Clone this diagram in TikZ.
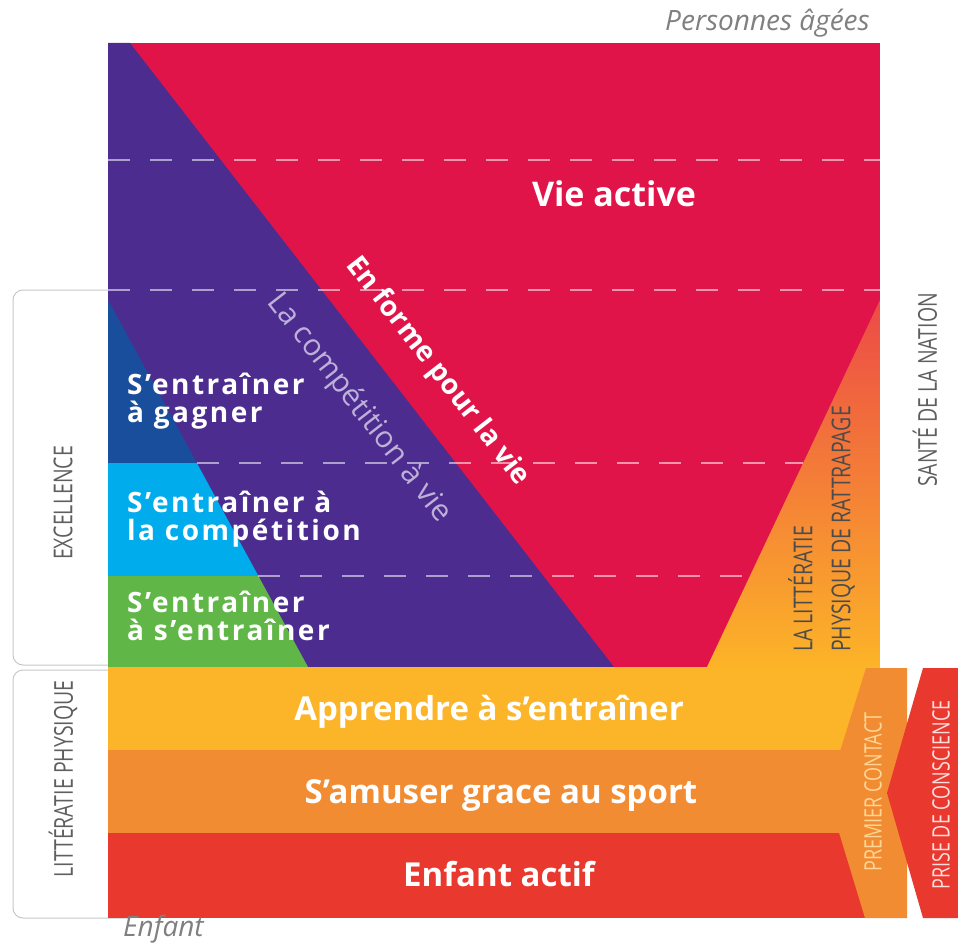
\documentclass[tikz,border=0pt]{standalone}
\usepackage{fontspec}
\setmainfont{Open Sans}
\newfontfamily\capsfont{Open Sans}[FakeStretch=0.75]
\newfontfamily\widefont{Open Sans}[LetterSpace=9]
\usepackage{tikz}

\definecolor{vieRed}{RGB}{224,20,72}
\definecolor{compPurple}{RGB}{76,45,143}
\definecolor{gagnerBlue}{RGB}{24,78,156}
\definecolor{compBlue}{RGB}{0,172,236}
\definecolor{entGreen}{RGB}{96,182,70}
\definecolor{bandYellow}{RGB}{252,180,40}
\definecolor{bandOrange}{RGB}{242,140,50}
\definecolor{bandRed}{RGB}{233,56,46}
\definecolor{rattrapTop}{RGB}{236,74,70}
\definecolor{rattrapMid}{RGB}{241,130,58}
\definecolor{labelGray}{RGB}{95,95,95}
\definecolor{compText}{RGB}{190,176,216}

\tikzstyle{stage} = [text=white, font=\bfseries\fontsize{33}{33}\selectfont, inner sep=0pt, anchor=base]
\tikzstyle{train} = [text=white, font=\widefont\bfseries\fontsize{28}{27.5}\selectfont, align=left, anchor=base west, inner sep=0pt]
\tikzstyle{sidelabel} = [text=labelGray, font=\capsfont\fontsize{26}{38}\selectfont, rotate=90, inner sep=0pt]
\tikzstyle{agelabel} = [text=gray, font=\itshape\fontsize{28}{28}\selectfont, inner sep=0pt]
\tikzstyle{level} = [draw=white, draw opacity=0.55, line width=1.5pt, dash pattern=on 22pt off 20pt]
\tikzstyle{bracket} = [draw=black!22, line width=1pt, rounded corners=10pt]

\begin{document}
\begin{tikzpicture}[x=1pt, y=-1pt]
    \useasboundingbox (0,0) rectangle (958,944);

    % brackets on the left
    \draw [bracket] (130,290) -- (13,290) -- (13,665) -- (130,665);
    \draw [bracket] (130,670) -- (13,670) -- (13,918) -- (130,918);

    % upper part
    \fill [vieRed] (108,43) rectangle (880,667);
    \fill [compPurple] (108,43) -- (130,43) -- (614,667) -- (108,667) -- cycle;
    \begin{scope}
        \clip (108,300) -- (308,667) -- (108,667) -- cycle;
        \fill [gagnerBlue] (108,300) rectangle (320,463);
        \fill [compBlue] (108,463) rectangle (320,576);
        \fill [entGreen] (108,576) rectangle (320,667);
    \end{scope}
    \shade [top color=rattrapTop, middle color=rattrapMid, bottom color=bandYellow]
        (707,667) -- (880,300) -- (880,667) -- cycle;

    \draw [level] (108,160) -- (880,160);
    \draw [level] (108,290) -- (880,290);
    \draw [level] (197,463) -- (803,463);
    \draw [level] (258,576) -- (750,576);

    % lower bands
    \fill [bandYellow] (108,667) rectangle (880,750);
    \fill [bandOrange] (108,750) rectangle (880,833);
    \fill [bandRed] (108,833) rectangle (880,918);

    % chevrons
    \fill [bandOrange] (866,668) -- (907,668) -- (907,918) -- (865,918) -- (827,793) -- cycle;
    \fill [bandRed] (923,668) -- (958,668) -- (958,918) -- (923,918) -- (887,793) -- cycle;

    % labels
    \node [stage, font=\bfseries\fontsize{34}{34}\selectfont] (vie) at (614,207) {Vie active};
    \node [stage, font=\bfseries\fontsize{28}{28}\selectfont, rotate=-52.2] (forme) at (432,376) {En forme pour la vie};
    \node [text=compText, font=\fontsize{30}{30}\selectfont, rotate=-52.2, inner sep=0pt] (competition) at (359,408) {La compétition à vie};

    \node [train] (gagner) at (127,422) {S’entraîner\\à gagner};
    \node [train] (compet) at (127,540) {S’entraîner à\\la compétition};
    \node [train] (sentrainer) at (127,640) {S’entraîner\\à s’entraîner};

    \node [stage] (apprendre) at (489,720) {Apprendre à s’entraîner};
    \node [stage] (amuser) at (501,803) {S’amuser grace au sport};
    \node [stage] (enfantactif) at (499,886) {Enfant actif};

    \node [sidelabel] (excellence) at (63,503) {EXCELLENCE};
    \node [sidelabel] (litteratie) at (63,779) {LITTÉRATIE PHYSIQUE};
    \node [sidelabel] (sante) at (925,390) {SANTÉ DE LA NATION};
    \node [sidelabel, text=black!70, align=left, anchor=north west] (rattrapage) at (788,652)
        {LA LITTÉRATIE\\PHYSIQUE DE RATTRAPAGE};
    \node [sidelabel, text={rgb,255:red,255;green,214;blue,150}, font=\capsfont\fontsize{24}{24}\selectfont] (contact) at (873,792) {PREMIER CONTACT};
    \node [sidelabel, text={rgb,255:red,255;green,222;blue,222}, font=\capsfont\fontsize{24}{24}\selectfont] (conscience) at (941,795) {PRISE DE CONSCIENCE};

    \node [agelabel, anchor=base east] (agees) at (870,31) {Personnes âgées};
    \node [agelabel, anchor=base west] (enfant) at (123,936) {Enfant};
\end{tikzpicture}
\end{document}
